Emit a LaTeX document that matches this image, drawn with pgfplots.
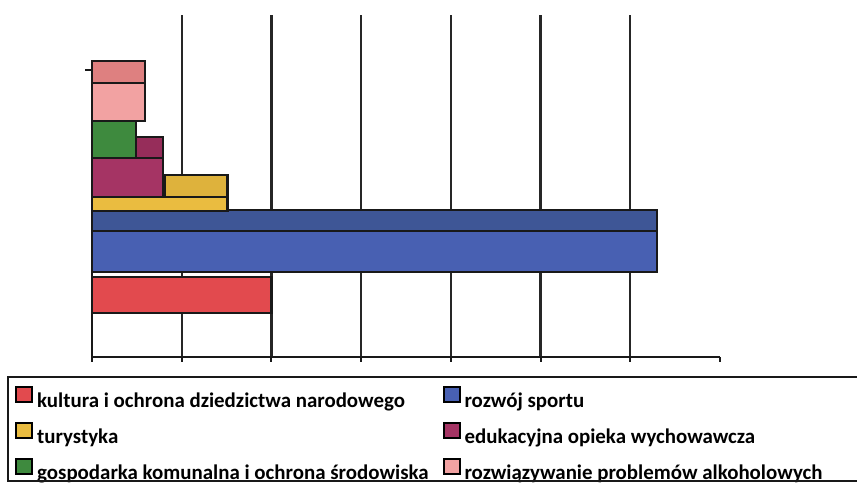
\documentclass[border=0pt]{standalone}
\usepackage{pgfplots}
\pgfplotsset{compat=1.18}
\usepackage{fontspec}
\setmainfont{Carlito}
\definecolor{cred}{RGB}{226,74,78}
\definecolor{cblue}{RGB}{72,96,178}
\definecolor{cbluetop}{RGB}{62,86,150}
\definecolor{cyellow}{RGB}{234,188,64}
\definecolor{cyellowtop}{RGB}{222,178,60}
\definecolor{cmag}{RGB}{165,52,100}
\definecolor{cmagtop}{RGB}{150,45,90}
\definecolor{cgreen}{RGB}{62,138,62}
\definecolor{cpink}{RGB}{242,162,162}
\definecolor{cpinktop}{RGB}{222,128,128}
\begin{document}
\begin{tikzpicture}
\path[use as bounding box] (0,0) rectangle (857pt,484pt);
\begin{axis}[
  at={(92pt,127pt)}, anchor=south west,
  width=628pt, height=342pt, scale only axis,
  xmin=0, xmax=7, ymin=127, ymax=469,
  axis x line=bottom, axis y line=none,
  x axis line style={-, line width=2.5pt, black!90},
  xtick={1,...,6}, xticklabels={,,,,,},
  extra x ticks={0,7}, extra x tick labels={,}, extra x tick style={grid=none},
  xmajorgrids, grid style={line width=2.2pt, black!85},
  tick style={line width=2pt, black!90},
  major tick length=5pt, tick align=outside,
  ytick=\empty,
  clip=false,
  legend columns=2,
  legend cell align=left,
  legend style={draw=none, fill=none, at={(-0.1226,-0.0847)}, anchor=north west, inner sep=0pt,
    font=\fontsize{20.9}{24}\selectfont\bfseries, row sep=10pt,
    nodes={inner sep=0pt, text height=15pt, text depth=5pt},
    /tikz/every odd column/.append style={column sep=4pt},
    /tikz/every even column/.append style={column sep=14pt}},
  legend image code/.code={\draw[#1] (0pt,0.5pt) rectangle (16pt,15pt);},
]
% bars (front faces and top faces, as drawn)
\addplot[fill=cred, draw=black!90, line width=2.5pt, forget plot] coordinates {(0,171) (2.0,171) (2.0,207) (0,207)} --cycle;
\addplot[fill=cblue, draw=black!90, line width=2.5pt, forget plot] coordinates {(0,212) (6.30,212) (6.30,253) (0,253)} --cycle;
\addplot[fill=cbluetop, draw=black!90, line width=2.5pt, forget plot] coordinates {(0,253) (6.30,253) (6.30,274) (0,274)} --cycle;
\addplot[fill=cyellow, draw=black!90, line width=2.5pt, forget plot] coordinates {(0,273) (1.51,273) (1.51,287) (0,287)} --cycle;
\addplot[fill=cyellowtop, draw=black!90, line width=2.5pt, forget plot] coordinates {(0.81,287) (1.51,287) (1.51,309) (0.81,309)} --cycle;
\addplot[fill=cmag, draw=black!90, line width=2.5pt, forget plot] coordinates {(0,287) (0.79,287) (0.79,326) (0,326)} --cycle;
\addplot[fill=cmagtop, draw=black!90, line width=2.5pt, forget plot] coordinates {(0.49,326) (0.79,326) (0.79,347) (0.49,347)} --cycle;
\addplot[fill=cgreen, draw=black!90, line width=2.5pt, forget plot] coordinates {(0,326) (0.49,326) (0.49,363) (0,363)} --cycle;
\addplot[fill=cpink, draw=black!90, line width=2.5pt, forget plot] coordinates {(0,363) (0.59,363) (0.59,401) (0,401)} --cycle;
\addplot[fill=cpinktop, draw=black!90, line width=2.5pt, forget plot] coordinates {(0,401) (0.59,401) (0.59,423) (0,423)} --cycle;
% left axis line and its tick
\addplot[black!90, line width=2.5pt, forget plot] coordinates {(0,122) (0,422)};
\addplot[black!90, line width=2pt, forget plot] coordinates {(0,414) (-0.08,414)};
% legend
\addlegendimage{fill=cred, draw=black, line width=2pt}
\addlegendentry{kultura i ochrona dziedzictwa narodowego}
\addlegendimage{fill=cblue, draw=black, line width=2pt}
\addlegendentry{rozwój sportu}
\addlegendimage{fill=cyellow, draw=black, line width=2pt}
\addlegendentry{turystyka}
\addlegendimage{fill=cmag, draw=black, line width=2pt}
\addlegendentry{edukacyjna opieka wychowawcza}
\addlegendimage{fill=cgreen, draw=black, line width=2pt}
\addlegendentry{gospodarka komunalna i ochrona środowiska}
\addlegendimage{fill=cpink, draw=black, line width=2pt}
\addlegendentry{rozwiązywanie problemów alkoholowych}
\end{axis}
\draw[line width=2pt, black!90] (8pt,107pt) rectangle (870pt,3pt);
\end{tikzpicture}
\end{document}
